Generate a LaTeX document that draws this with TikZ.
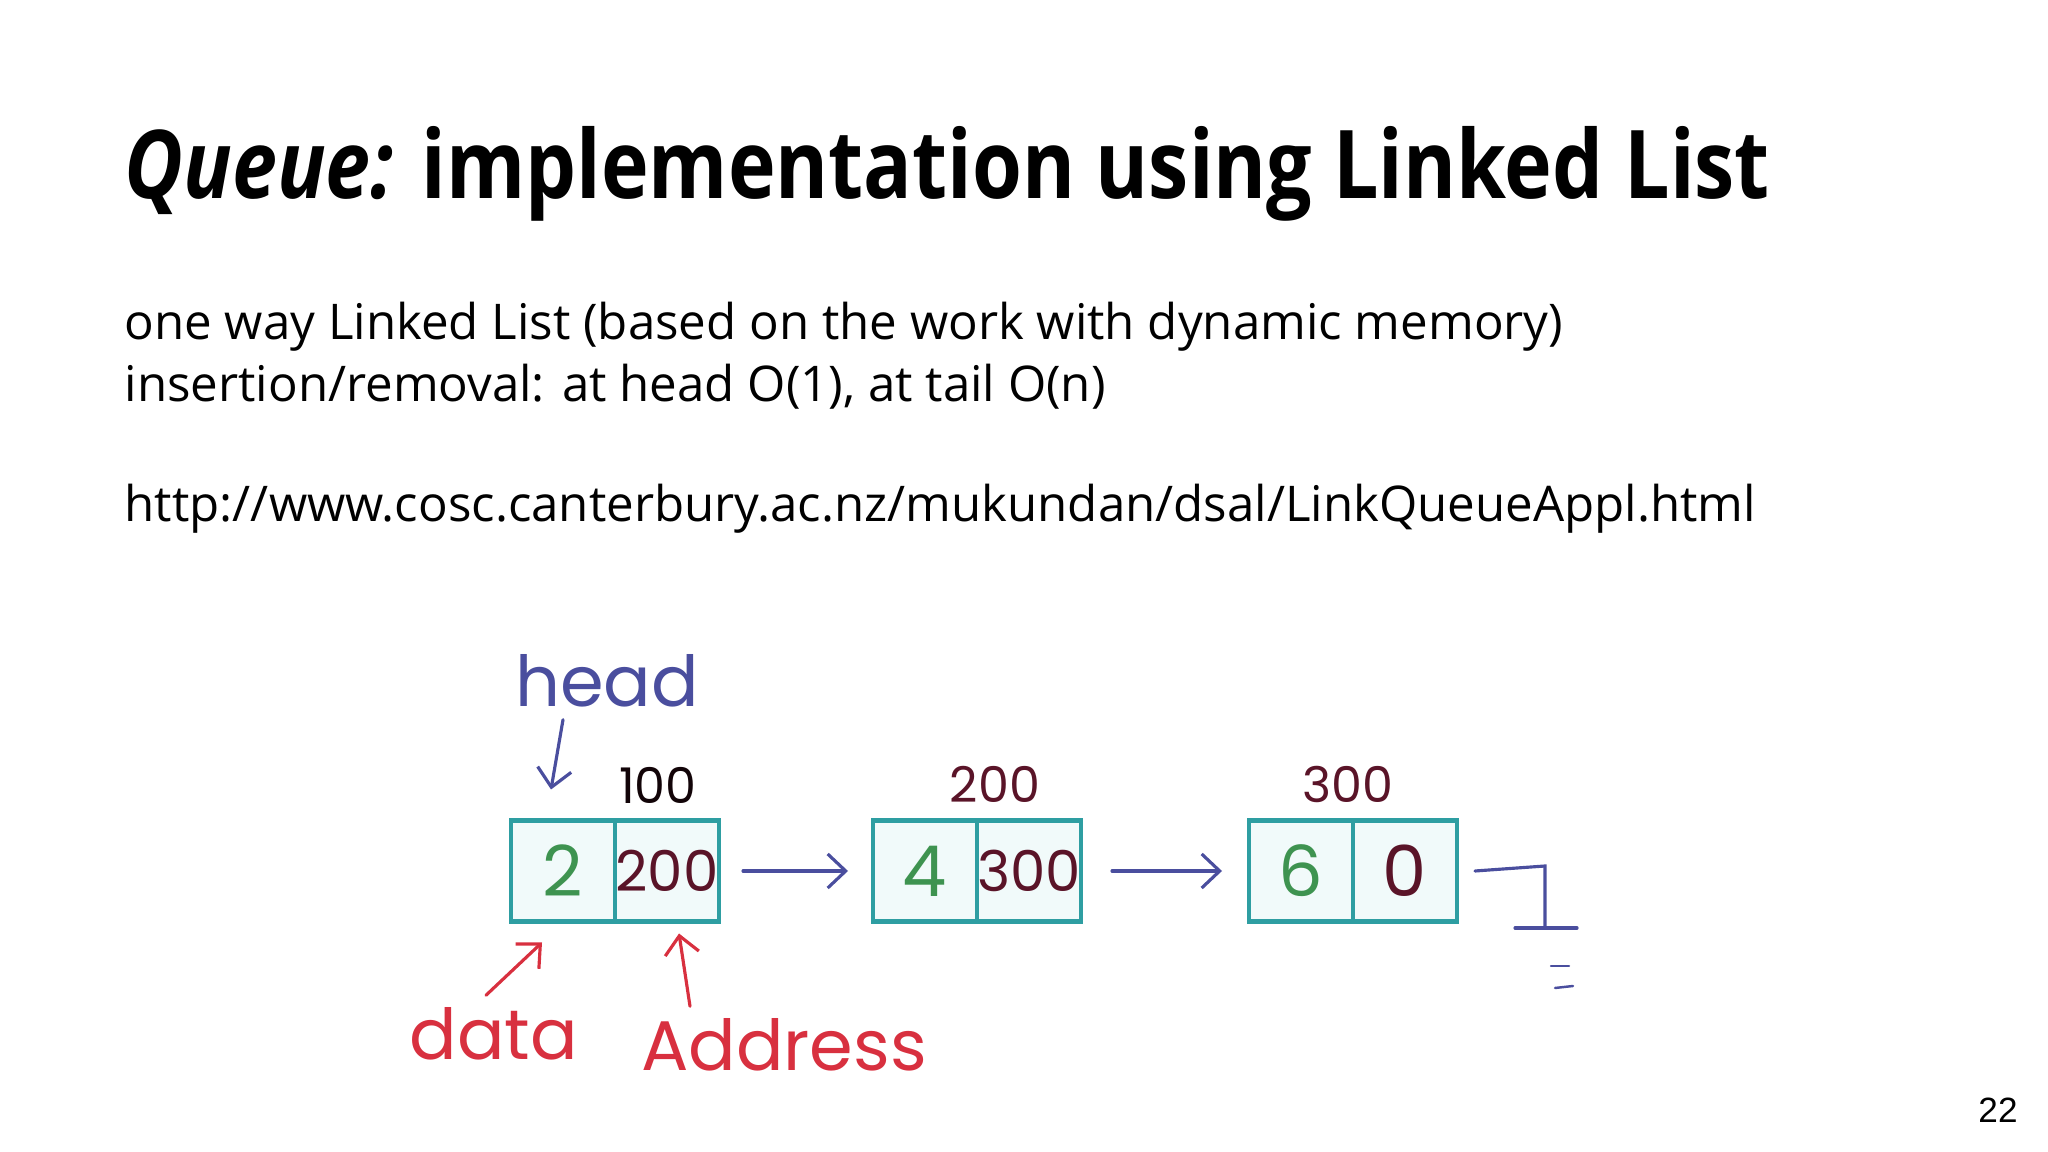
\documentclass[tikz,border=0pt]{standalone}
\usepackage{fontspec}
\setmainfont{Open Sans}
\newfontfamily\titlefont[FakeStretch=0.85]{Open Sans}
\newfontfamily\handfont{Poppins}
\newfontfamily\arialfont{Liberation Sans}
\usetikzlibrary{positioning,arrows.meta}
\definecolor{cellteal}{HTML}{2E9EA2}
\definecolor{cellfill}{HTML}{F1FAFA}
\definecolor{digitgreen}{HTML}{3E9350}
\definecolor{inkmaroon}{HTML}{5A1428}
\definecolor{inkblue}{HTML}{4A4E9E}
\definecolor{inkred}{HTML}{D8303F}

\begin{document}
\begin{tikzpicture}[x=0.1mm, y=-0.1mm,
    cell/.style={draw=cellteal, fill=cellfill, line width=1.2pt, minimum width=10.4mm, minimum height=10.1mm, inner sep=0pt, outer sep=0pt},
    hand/.style={font=\handfont\fontsize{#1}{#1}\selectfont},
    ptr/.style={line width=0.9pt, line cap=round, -{Straight Barb[length=1.8mm, width=3.4mm]}}]
  \useasboundingbox (0,0) rectangle (2048,1152);
  \node[anchor=base west, inner sep=0pt, font=\titlefont\fontsize{27}{32}\selectfont\bfseries] (title) at (124,199) {\textit{Queue:} implementation using Linked List};
  \node[anchor=base west, inner sep=0pt, align=left, font=\fontsize{14}{17.7}\selectfont] (intro) at (124,402) {one way Linked List (based on the work with dynamic memory)\\insertion/removal: at head O(1), at tail O(n)};
  \node[anchor=base west, inner sep=0pt, font=\fontsize{14}{17.7}\selectfont] (url) at (124,522) {http://www.cosc.canterbury.ac.nz/mukundan/dsal/LinkQueueAppl.html};
  \node[font=\arialfont\fontsize{10}{12}\selectfont] (page) at (1998,1110) {22};

  \foreach \n/\x/\d/\a/\fs in {1/563/2/200/16, 2/925/4/300/16, 3/1301/6/0/20} {
    \node[cell, hand=20, text=digitgreen] (dat\n) at (\x,871) {\d};
    \node[cell, hand=\fs, text=inkmaroon, right=0pt of dat\n] (lnk\n) {\a};
  }
  \node[hand=14, text=black!80!inkmaroon] (adr1) at (658,785) {100};
  \node[hand=14, text=inkmaroon] (adr2) at (995,784) {200};
  \node[hand=14, text=inkmaroon] (adr3) at (1348,784) {300};

  \draw[ptr, inkblue] (lnk1.east) -- (dat2.west) [shorten <=2.4mm, shorten >=2.5mm];
  \draw[ptr, inkblue] (lnk2.east) -- (dat3.west) [shorten <=3.1mm, shorten >=2.7mm];

  \node[hand=20, text=inkblue] (headlbl) at (607,681) {head};
  \draw[ptr, inkblue] (dat1.north |- headlbl.south) -- ([xshift=-1.2mm, yshift=3.1mm]dat1.north);

  \node[hand=20, text=inkred] (datalbl) at (494,1034) {data};
  \node[hand=20, text=inkred] (addrlbl) at (784,1045) {Address};
  \draw[ptr, inkred] ([xshift=-0.8mm]datalbl.north) -- ([xshift=-2.1mm, yshift=-2.1mm]dat1.south);
  \draw[ptr, inkred] ([xshift=-9.4mm]addrlbl.north) -- ([xshift=1.2mm, yshift=-1.2mm]lnk1.south);

  \coordinate (gndtop) at (1545,866);
  \coordinate (gndbot) at (1545,928);
  \draw[inkblue, line width=0.9pt, line cap=round] ([xshift=1.8mm]lnk3.east) -- (gndtop) -- (gndbot);
  \draw[inkblue, line width=0.9pt, line cap=round] ([xshift=-3mm]gndbot) -- ([xshift=3.2mm]gndbot);
  \draw[inkblue, line width=0.7pt, line cap=round] ([shift={(0.6mm,-3.8mm)}]gndbot) -- ++(18,0);
  \draw[inkblue, line width=0.7pt, line cap=round] ([shift={(1mm,-6mm)}]gndbot) -- ++(18,-2);
\end{tikzpicture}
\end{document}
